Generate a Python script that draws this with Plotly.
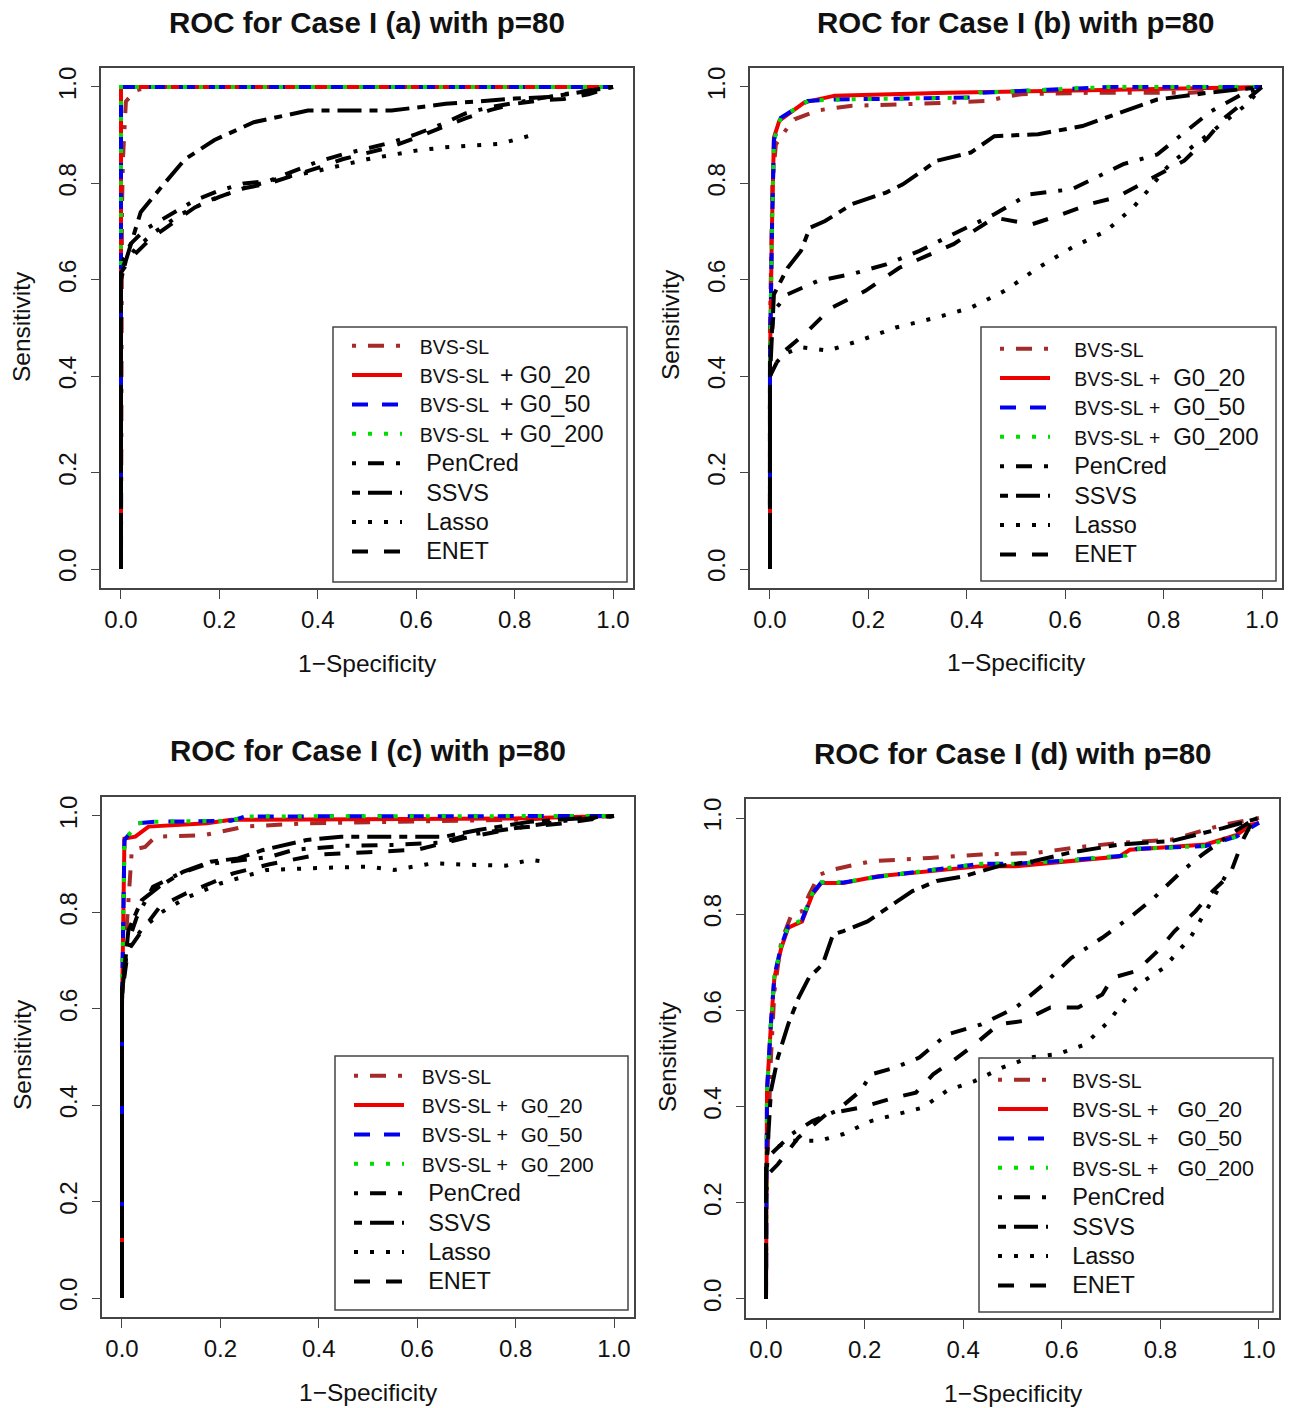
import plotly.graph_objects as go

W, H = 1294, 1408

# ---------------- data (FPR = 1-Specificity, TPR = Sensitivity) ----------------
# Panel (a)
A_BVS_FPR = [0, 0.0, 0.002, 0.004, 0.01, 0.03, 0.06, 1.0]
A_BVS_TPR = [0, 0.60, 0.75, 0.85, 0.97, 0.993, 1.0, 1.0]
A_G20_FPR = [0, 0.0, 1.0]
A_G20_TPR = [0, 1.0, 1.0]
A_G50_FPR = [0, 0.0, 1.0]
A_G50_TPR = [0, 1.0, 1.0]
A_G200_FPR = [0, 0.0, 1.0]
A_G200_TPR = [0, 1.0, 1.0]
A_PENCRED_FPR = [0, 0.0, 0.01, 0.02, 0.05, 0.1, 0.15, 0.2, 0.25, 0.3, 0.35, 0.4, 0.45, 0.5, 0.55, 0.6, 0.65, 0.7, 0.75, 0.8, 0.85, 0.9, 1.0]
A_PENCRED_TPR = [0, 0.63, 0.655, 0.675, 0.705, 0.735, 0.765, 0.785, 0.80, 0.805, 0.825, 0.845, 0.86, 0.872, 0.885, 0.902, 0.922, 0.945, 0.958, 0.967, 0.976, 0.985, 1.0]
A_SSVS_FPR = [0, 0.0, 0.01, 0.04, 0.08, 0.13, 0.19, 0.27, 0.38, 0.55, 0.66, 0.8, 0.87, 1.0]
A_SSVS_TPR = [0, 0.60, 0.64, 0.74, 0.79, 0.85, 0.89, 0.927, 0.951, 0.951, 0.965, 0.976, 0.979, 1.0]
A_LASSO_FPR = [0, 0.0, 0.01, 0.03, 0.07, 0.12, 0.18, 0.25, 0.32, 0.4, 0.5, 0.6, 0.66, 0.77, 0.835]
A_LASSO_TPR = [0, 0.62, 0.64, 0.665, 0.70, 0.735, 0.765, 0.79, 0.81, 0.826, 0.85, 0.868, 0.875, 0.882, 0.90]
A_ENET_FPR = [0, 0.0, 0.01, 0.03, 0.06, 0.1, 0.15, 0.2, 0.25, 0.3, 0.35, 0.4, 0.45, 0.5, 0.55, 0.6, 0.65, 0.7, 0.75, 0.8, 0.85, 0.9, 0.95, 1.0]
A_ENET_TPR = [0, 0.615, 0.63, 0.655, 0.685, 0.715, 0.75, 0.772, 0.79, 0.80, 0.815, 0.832, 0.85, 0.862, 0.876, 0.895, 0.915, 0.935, 0.952, 0.965, 0.972, 0.975, 0.985, 1.0]

# Panel (b)
B_BVS_FPR = [0, 0.0, 0.005, 0.012, 0.036, 0.05, 0.1, 0.167, 0.3, 0.442, 0.48, 0.511, 0.649, 0.855, 1.0]
B_BVS_TPR = [0, 0.50, 0.80, 0.881, 0.916, 0.933, 0.952, 0.961, 0.965, 0.971, 0.98, 0.985, 0.988, 0.988, 1.0]
B_G20_FPR = [0, 0.0, 0.004, 0.008, 0.019, 0.036, 0.07, 0.132, 0.36, 0.649, 1.0]
B_G20_TPR = [0, 0.43, 0.71, 0.895, 0.93, 0.943, 0.968, 0.982, 0.988, 0.993, 1.0]
B_G50_FPR = [0, 0.0, 0.004, 0.008, 0.022, 0.043, 0.077, 0.132, 0.408, 0.428, 0.69, 1.0]
B_G50_TPR = [0, 0.43, 0.70, 0.89, 0.936, 0.95, 0.971, 0.974, 0.978, 0.988, 1.0, 1.0]
B_G200_FPR = [0, 0.0, 0.004, 0.008, 0.022, 0.043, 0.077, 0.132, 0.405, 0.425, 0.69, 1.0]
B_G200_TPR = [0, 0.43, 0.70, 0.89, 0.936, 0.95, 0.971, 0.974, 0.978, 0.988, 1.0, 1.0]
B_PENCRED_FPR = [0, 0.0, 0.008, 0.036, 0.098, 0.167, 0.236, 0.304, 0.373, 0.456, 0.525, 0.614, 0.718, 0.787, 0.855, 0.897, 0.959, 1.0]
B_PENCRED_TPR = [0, 0.45, 0.536, 0.57, 0.598, 0.612, 0.632, 0.66, 0.695, 0.736, 0.777, 0.788, 0.84, 0.86, 0.916, 0.95, 0.985, 1.0]
B_SSVS_FPR = [0, 0.0, 0.008, 0.036, 0.063, 0.081, 0.112, 0.167, 0.236, 0.27, 0.339, 0.408, 0.456, 0.545, 0.635, 0.718, 0.787, 0.89, 1.0]
B_SSVS_TPR = [0, 0.40, 0.57, 0.625, 0.66, 0.708, 0.722, 0.757, 0.781, 0.798, 0.847, 0.864, 0.898, 0.902, 0.919, 0.95, 0.974, 0.988, 1.0]
B_LASSO_FPR = [0, 0.0, 0.01, 0.029, 0.063, 0.118, 0.18, 0.256, 0.339, 0.408, 0.477, 0.545, 0.614, 0.683, 0.738, 0.773, 0.8, 0.821, 0.87, 0.92, 0.97, 1.0]
B_LASSO_TPR = [0, 0.40, 0.425, 0.446, 0.46, 0.453, 0.473, 0.501, 0.522, 0.542, 0.577, 0.625, 0.667, 0.701, 0.75, 0.791, 0.826, 0.847, 0.885, 0.925, 0.965, 1.0]
B_ENET_FPR = [0, 0.0, 0.022, 0.07, 0.125, 0.194, 0.263, 0.325, 0.373, 0.456, 0.532, 0.594, 0.649, 0.704, 0.752, 0.842, 0.89, 0.924, 0.966, 1.0]
B_ENET_TPR = [0, 0.40, 0.446, 0.487, 0.542, 0.577, 0.625, 0.653, 0.674, 0.729, 0.715, 0.736, 0.757, 0.771, 0.798, 0.847, 0.895, 0.936, 0.971, 1.0]

# Panel (c)
C_BVS_FPR = [0, 0.0, 0.005, 0.009, 0.016, 0.02, 0.047, 0.068, 0.166, 0.25, 0.375, 0.794, 1.0]
C_BVS_TPR = [0, 0.62, 0.70, 0.756, 0.86, 0.929, 0.936, 0.957, 0.96, 0.978, 0.985, 0.992, 1.0]
C_G20_FPR = [0, 0.0, 0.005, 0.027, 0.054, 0.096, 0.173, 0.222, 0.794, 1.0]
C_G20_TPR = [0, 0.60, 0.953, 0.957, 0.978, 0.981, 0.985, 0.992, 0.995, 1.0]
C_G50_FPR = [0, 0.0, 0.005, 0.033, 0.068, 0.222, 0.25, 1.0]
C_G50_TPR = [0, 0.60, 0.95, 0.985, 0.988, 0.99, 0.999, 1.0]
C_G200_FPR = [0, 0.0, 0.005, 0.033, 0.068, 0.222, 0.25, 1.0]
C_G200_TPR = [0, 0.60, 0.95, 0.985, 0.988, 0.99, 0.999, 1.0]
C_PENCRED_FPR = [0, 0.0, 0.01, 0.03, 0.063, 0.118, 0.172, 0.226, 0.3, 0.35, 0.45, 0.55, 0.65, 0.7, 0.8, 0.9, 1.0]
C_PENCRED_TPR = [0, 0.64, 0.73, 0.79, 0.853, 0.881, 0.90, 0.906, 0.915, 0.93, 0.938, 0.94, 0.945, 0.96, 0.975, 0.99, 1.0]
C_SSVS_FPR = [0, 0.0, 0.013, 0.04, 0.075, 0.124, 0.18, 0.236, 0.285, 0.375, 0.445, 0.655, 0.724, 0.829, 1.0]
C_SSVS_TPR = [0, 0.63, 0.763, 0.825, 0.853, 0.884, 0.905, 0.912, 0.929, 0.95, 0.957, 0.957, 0.971, 0.988, 1.0]
C_LASSO_FPR = [0, 0.0, 0.01, 0.04, 0.08, 0.13, 0.2, 0.294, 0.396, 0.5, 0.553, 0.633, 0.70, 0.78, 0.829, 0.86]
C_LASSO_TPR = [0, 0.63, 0.72, 0.765, 0.80, 0.83, 0.86, 0.888, 0.892, 0.895, 0.888, 0.902, 0.899, 0.897, 0.909, 0.905]
C_ENET_FPR = [0, 0.0, 0.012, 0.037, 0.077, 0.131, 0.179, 0.226, 0.3, 0.4, 0.5, 0.6, 0.7, 0.8, 0.9, 1.0]
C_ENET_TPR = [0, 0.63, 0.72, 0.757, 0.812, 0.84, 0.86, 0.881, 0.90, 0.92, 0.925, 0.93, 0.955, 0.975, 0.985, 1.0]

# Panel (d)
D_BVS_FPR = [0, 0.0, 0.003, 0.01, 0.017, 0.031, 0.052, 0.073, 0.087, 0.108, 0.136, 0.213, 0.332, 0.437, 0.542, 0.647, 0.717, 0.822, 0.927, 1.0]
D_BVS_TPR = [0, 0.22, 0.294, 0.502, 0.64, 0.744, 0.80, 0.806, 0.84, 0.882, 0.893, 0.91, 0.917, 0.924, 0.927, 0.941, 0.948, 0.955, 0.986, 1.0]
D_G20_FPR = [0, 0.0, 0.002, 0.01, 0.017, 0.031, 0.045, 0.073, 0.094, 0.112, 0.157, 0.227, 0.332, 0.437, 0.507, 0.612, 0.717, 0.738, 0.892, 0.955, 0.983, 1.0]
D_G20_TPR = [0, 0.225, 0.433, 0.571, 0.668, 0.73, 0.772, 0.785, 0.841, 0.865, 0.865, 0.879, 0.889, 0.90, 0.90, 0.91, 0.92, 0.934, 0.945, 0.965, 0.986, 0.99]
D_G50_FPR = [0, 0.0, 0.002, 0.01, 0.017, 0.031, 0.045, 0.073, 0.094, 0.112, 0.157, 0.227, 0.332, 0.437, 0.507, 0.612, 0.73, 0.752, 0.892, 0.955, 0.983, 1.0]
D_G50_TPR = [0, 0.225, 0.433, 0.575, 0.672, 0.735, 0.775, 0.788, 0.843, 0.866, 0.866, 0.878, 0.892, 0.905, 0.905, 0.912, 0.922, 0.936, 0.942, 0.962, 0.98, 0.99]
D_G200_FPR = [0, 0.0, 0.002, 0.01, 0.017, 0.031, 0.045, 0.073, 0.094, 0.112, 0.157, 0.227, 0.332, 0.437, 0.507, 0.612, 0.73, 0.752, 0.892, 0.955, 0.983, 1.0]
D_G200_TPR = [0, 0.225, 0.433, 0.575, 0.672, 0.735, 0.775, 0.788, 0.843, 0.866, 0.866, 0.878, 0.892, 0.905, 0.905, 0.912, 0.922, 0.936, 0.942, 0.962, 0.978, 0.985]
D_PENCRED_FPR = [0, 0.0, 0.003, 0.017, 0.052, 0.094, 0.143, 0.192, 0.213, 0.262, 0.311, 0.367, 0.437, 0.507, 0.563, 0.619, 0.682, 0.745, 0.787, 0.843, 0.885, 0.941, 0.983, 1.0]
D_PENCRED_TPR = [0, 0.25, 0.294, 0.308, 0.343, 0.37, 0.391, 0.433, 0.467, 0.481, 0.502, 0.55, 0.571, 0.606, 0.654, 0.709, 0.751, 0.799, 0.834, 0.889, 0.924, 0.965, 0.993, 1.0]
D_SSVS_FPR = [0, 0.0, 0.01, 0.024, 0.045, 0.066, 0.087, 0.115, 0.136, 0.157, 0.206, 0.248, 0.297, 0.346, 0.402, 0.472, 0.542, 0.612, 0.717, 0.822, 0.927, 1.0]
D_SSVS_TPR = [0, 0.26, 0.433, 0.502, 0.571, 0.626, 0.668, 0.696, 0.758, 0.765, 0.785, 0.813, 0.848, 0.869, 0.879, 0.90, 0.91, 0.927, 0.945, 0.952, 0.979, 1.0]
D_LASSO_FPR = [0, 0.0, 0.003, 0.052, 0.108, 0.157, 0.213, 0.262, 0.318, 0.367, 0.423, 0.479, 0.535, 0.591, 0.647, 0.696, 0.731, 0.766, 0.808, 0.836, 0.86, 0.90, 0.935]
D_LASSO_TPR = [0, 0.28, 0.308, 0.329, 0.329, 0.343, 0.37, 0.384, 0.398, 0.433, 0.453, 0.481, 0.502, 0.509, 0.529, 0.578, 0.626, 0.661, 0.689, 0.723, 0.75, 0.82, 0.885]
D_ENET_FPR = [0, 0.0, 0.005, 0.024, 0.066, 0.122, 0.192, 0.262, 0.304, 0.339, 0.388, 0.423, 0.472, 0.521, 0.577, 0.633, 0.682, 0.703, 0.752, 0.794, 0.829, 0.871, 0.906, 0.941, 0.969, 0.983, 1.0]
D_ENET_TPR = [0, 0.22, 0.26, 0.28, 0.336, 0.384, 0.398, 0.419, 0.429, 0.467, 0.502, 0.529, 0.571, 0.578, 0.606, 0.606, 0.633, 0.668, 0.682, 0.723, 0.765, 0.806, 0.848, 0.882, 0.958, 0.986, 1.0]

TITLES = ["ROC for Case I (a) with p=80", "ROC for Case I (b) with p=80",
          "ROC for Case I (c) with p=80", "ROC for Case I (d) with p=80"]
X_TITLE = "1\u2212Specificity"
Y_TITLE = "Sensitivity"
TICK_VALS = [0.0, 0.2, 0.4, 0.6, 0.8, 1.0]
TICK_TEXT = ["0.0", "0.2", "0.4", "0.6", "0.8", "1.0"]
METHODS = ["BVS-SL", "PenCred", "SSVS", "Lasso", "ENET"]
GROUPS = ["G0_20", "G0_50", "G0_200"]


def sp(text, size):
    return '<span style="font-size:%gpx">%s</span>' % (size, text)


def nb(n, size):
    return sp("\u00a0" * n, size)


def build_labels(lead_bvs, lead_black, mid_plus, gap_g, g_size, plus_sep):
    out = [nb(lead_bvs, 23) + sp(METHODS[0], 19.5)]
    for g in GROUPS:
        if plus_sep:
            txt = (nb(lead_bvs, 23) + sp(METHODS[0], 19.5) + nb(mid_plus, 19.5) + sp("+", 23)
                   + nb(gap_g, 23) + sp(g, g_size))
        else:
            txt = (nb(lead_bvs, 23) + sp(METHODS[0] + "\u00a0+", 19.5)
                   + nb(gap_g, 23) + sp(g, g_size))
        out.append(txt)
    for m in METHODS[1:]:
        out.append(nb(lead_black, 23) + sp(m, 23.5))
    return out


LABELS_A = build_labels(2, 3, 2, 1, 23.5, True)
LABELS_B = build_labels(3, 3, 0, 2, 24, False)
LABELS_C = build_labels(2, 3, 0, 2, 20.5, False)
LABELS_D = build_labels(3, 3, 0, 3, 21.5, False)

COLORS = ["#A52A2A", "#EE0000", "#0000EE", "#00DD00", "#000000", "#000000", "#000000", "#000000"]
DASHES = ["4px,12px,16px,12px", "solid", "16px,14px", "4px,12px",
          "4px,12px,16px,12px", "8px,8px,24px,8px", "4px,12px", "16px,16px"]

PANELS = [
    [(A_BVS_FPR, A_BVS_TPR), (A_G20_FPR, A_G20_TPR), (A_G50_FPR, A_G50_TPR), (A_G200_FPR, A_G200_TPR),
     (A_PENCRED_FPR, A_PENCRED_TPR), (A_SSVS_FPR, A_SSVS_TPR), (A_LASSO_FPR, A_LASSO_TPR), (A_ENET_FPR, A_ENET_TPR)],
    [(B_BVS_FPR, B_BVS_TPR), (B_G20_FPR, B_G20_TPR), (B_G50_FPR, B_G50_TPR), (B_G200_FPR, B_G200_TPR),
     (B_PENCRED_FPR, B_PENCRED_TPR), (B_SSVS_FPR, B_SSVS_TPR), (B_LASSO_FPR, B_LASSO_TPR), (B_ENET_FPR, B_ENET_TPR)],
    [(C_BVS_FPR, C_BVS_TPR), (C_G20_FPR, C_G20_TPR), (C_G50_FPR, C_G50_TPR), (C_G200_FPR, C_G200_TPR),
     (C_PENCRED_FPR, C_PENCRED_TPR), (C_SSVS_FPR, C_SSVS_TPR), (C_LASSO_FPR, C_LASSO_TPR), (C_ENET_FPR, C_ENET_TPR)],
    [(D_BVS_FPR, D_BVS_TPR), (D_G20_FPR, D_G20_TPR), (D_G50_FPR, D_G50_TPR), (D_G200_FPR, D_G200_TPR),
     (D_PENCRED_FPR, D_PENCRED_TPR), (D_SSVS_FPR, D_SSVS_TPR), (D_LASSO_FPR, D_LASSO_TPR), (D_ENET_FPR, D_ENET_TPR)],
]
LABELS = [LABELS_A, LABELS_B, LABELS_C, LABELS_D]

# ---------------- layout geometry (pixels) ----------------
BOXES = [(101.3, 632.7, 67.7, 588.3), (750.3, 1281.7, 67.7, 588.3),
         (102.3, 633.7, 796.7, 1317.3), (746.3, 1278.7, 798.8, 1318.2)]
LEG_BOXES = [(333, 627, 327, 582), (981, 1276, 327, 581), (335, 628, 1056, 1310), (979, 1273, 1058, 1312)]
LEG_TOP_OFF = [-1, 2, 0, 2]
TITLE_POS = [(367, 22), (1016, 22), (368, 751), (1013, 753)]
XT_POS = [(367, 663), (1016, 662), (368, 1392), (1013, 1393)]
YT_POS = [(22, 327), (670, 325), (22, 1055), (667, 1057)]

px = lambda x: x / W
py = lambda y: 1 - y / H

FONT = "Liberation Sans, Arial, Helvetica, sans-serif"
fig = go.Figure()

legend_names = ["legend", "legend2", "legend3", "legend4"]
for p in range(4):
    ax = "" if p == 0 else str(p + 1)
    for k, (xs, ys) in enumerate(PANELS[p]):
        fig.add_trace(go.Scatter(
            x=xs, y=ys, mode="lines", name=LABELS[p][k],
            line=dict(color=COLORS[k], width=4, dash=DASHES[k]),
            xaxis="x" + ax, yaxis="y" + ax, legend=legend_names[p],
            hoverinfo="skip"))

layout = dict(
    width=W, height=H, margin=dict(l=0, r=0, t=0, b=0),
    paper_bgcolor="white", plot_bgcolor="white",
    font=dict(family=FONT, color="black", size=23),
    shapes=[], annotations=[],
)
for p in range(4):
    l, r, t, b = BOXES[p]
    ax = "" if p == 0 else str(p + 1)
    axis_common = dict(range=[-0.04, 1.04], showgrid=False, zeroline=False,
                       showline=True, mirror=True, linecolor="#444", linewidth=1.5,
                       ticks="outside", ticklen=9, tickwidth=1.3, tickcolor="#444",
                       tickvals=TICK_VALS, ticktext=TICK_TEXT,
                       tickfont=dict(size=24, family=FONT, color="#111"),
                       fixedrange=True)
    layout["xaxis" + ax] = dict(axis_common, domain=[px(l), px(r)], anchor="y" + ax,
                                ticklabelstandoff=0)
    layout["yaxis" + ax] = dict(axis_common, domain=[py(b), py(t)], anchor="x" + ax,
                                tickangle=-90, ticklabelstandoff=5)
    ll, lr, lt, lb = LEG_BOXES[p]
    layout["shapes"].append(dict(type="rect", xref="paper", yref="paper",
                                 x0=px(ll), x1=px(lr), y0=py(lb), y1=py(lt),
                                 line=dict(color="#444", width=1.5), fillcolor="rgba(0,0,0,0)"))
    layout[legend_names[p]] = dict(x=px(ll + 14), y=py(lt + LEG_TOP_OFF[p]), xanchor="left", yanchor="top",
                                   bgcolor="rgba(0,0,0,0)", borderwidth=0,
                                   font=dict(size=20.3, family=FONT, color="#111"),
                                   itemwidth=50, tracegroupgap=0)
    tx, ty = TITLE_POS[p]
    layout["annotations"].append(dict(text="<b>" + TITLES[p] + "</b>", x=px(tx), y=py(ty),
                                      xref="paper", yref="paper", showarrow=False,
                                      xanchor="center", yanchor="middle",
                                      font=dict(size=29.5, family=FONT, color="#111")))
    xx, xy = XT_POS[p]
    layout["annotations"].append(dict(text=X_TITLE, x=px(xx), y=py(xy), xref="paper", yref="paper",
                                      showarrow=False, xanchor="center", yanchor="middle",
                                      font=dict(size=24.5, family=FONT, color="#111")))
    yx, yy = YT_POS[p]
    layout["annotations"].append(dict(text=Y_TITLE, x=px(yx), y=py(yy), xref="paper", yref="paper",
                                      showarrow=False, xanchor="center", yanchor="middle", textangle=-90,
                                      font=dict(size=24.5, family=FONT, color="#111")))

fig.update_layout(**layout)
fig.write_html("out.html")
